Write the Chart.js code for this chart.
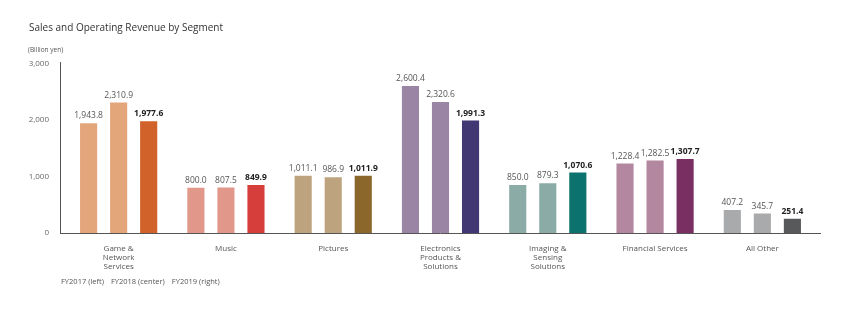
<!DOCTYPE html>
<html>
<head>
<meta charset="utf-8">
<script src="https://cdn.jsdelivr.net/npm/chart.js@4"></script>
<style>
  html, body { margin:0; padding:0; background:#fff; }
  #wrap { position:relative; width:850px; height:336px; font-family:"Open Sans", sans-serif; }
  #c { position:absolute; left:0; top:0; }
  .txt { position:absolute; white-space:nowrap; color:#444; }
  #title { left:29px; top:20px; font-size:10px; color:#333; }
  #unit { left:28px; top:45px; font-size:6.5px; color:#555; }
  #legend { left:61px; top:276px; font-size:7.5px; color:#555; }
  #legend span { margin-right:7px; }
</style>
</head>
<body>
<div id="wrap">
  <canvas id="c" width="850" height="336"></canvas>
  <div class="txt" id="title">Sales and Operating Revenue by Segment</div>
  <div class="txt" id="unit">(Billion yen)</div>
  <div class="txt" id="legend"><span>FY2017 (left)</span><span>FY2018 (center)</span><span>FY2019 (right)</span></div>
</div>
<script>
const categories = [
  ["Game &", "Network", "Services"],
  "Music",
  "Pictures",
  ["Electronics", "Products &", "Solutions"],
  ["Imaging &", "Sensing", "Solutions"],
  "Financial Services",
  "All Other"
];
const fy2017 = [1943.8, 800.0, 1011.1, 2600.4, 850.0, 1228.4, 407.2];
const fy2018 = [2310.9, 807.5, 986.9, 2320.6, 879.3, 1282.5, 345.7];
const fy2019 = [1977.6, 849.9, 1011.9, 1991.3, 1070.6, 1307.7, 251.4];
const seriesNames = ["FY2017 (left)", "FY2018 (center)", "FY2019 (right)"];
const yTicks = [0, 1000, 2000, 3000];

const lightColors = ["#E3A67B", "#E2978B", "#BEA47E", "#9A85A5", "#8BABA7", "#B3879F", "#A9AAAB"];
const darkColors  = ["#D0622A", "#D63E3C", "#8C672C", "#413773", "#0B726E", "#7A2F63", "#58595B"];

const fmt = v => v.toLocaleString("en-US", {minimumFractionDigits:1, maximumFractionDigits:1});

const overlay = {
  id: "overlay",
  afterDatasetsDraw(chart) {
    const ctx = chart.ctx;
    const area = chart.chartArea;
    ctx.save();
    ctx.strokeStyle = "#555";
    ctx.lineWidth = 1;
    ctx.beginPath();
    ctx.moveTo(60.5, area.top - 1.5);
    ctx.lineTo(60.5, area.bottom + 0.5);
    ctx.moveTo(60, area.bottom + 0.5);
    ctx.lineTo(821, area.bottom + 0.5);
    ctx.stroke();
    ctx.textAlign = "center";
    ctx.textBaseline = "bottom";
    chart.data.datasets.forEach((ds, di) => {
      const meta = chart.getDatasetMeta(di);
      meta.data.forEach((bar, i) => {
        const last = di === 2;
        ctx.font = (last ? "bold " : "") + "8.5px 'Open Sans', sans-serif";
        ctx.fillStyle = last ? "#222" : "#555";
        ctx.fillText(fmt(ds.data[i]), bar.x, bar.y - 3);
      });
    });
    ctx.restore();
  }
};

new Chart(document.getElementById("c"), {
  type: "bar",
  data: {
    labels: categories,
    datasets: [
      { label: seriesNames[0], data: fy2017, backgroundColor: lightColors },
      { label: seriesNames[1], data: fy2018, backgroundColor: lightColors },
      { label: seriesNames[2], data: fy2019, backgroundColor: darkColors }
    ]
  },
  options: {
    responsive: false,
    animation: false,
    devicePixelRatio: 1,
    categoryPercentage: 0.84,
    barPercentage: 0.57,
    layout: { padding: { top: 63.5, right: 34, left: 0, bottom: 0 } },
    plugins: { legend: { display: false }, title: { display: false }, tooltip: { enabled: false } },
    scales: {
      x: {
        grid: { display: false },
        border: { display: false },
        ticks: {
          color: "#555",
          font: { family: "'Open Sans', sans-serif", size: 8, lineHeight: 1.12 },
          padding: 3,
          maxRotation: 0,
          autoSkip: false
        },
        afterFit(scale) { scale.height = 103; }
      },
      y: {
        min: 0, max: 3000,
        grid: { display: false },
        border: { display: false },
        afterBuildTicks(scale) { scale.ticks = yTicks.map(v => ({ value: v })); },
        ticks: {
          color: "#666",
          font: { family: "'Open Sans', sans-serif", size: 8 },
          padding: 8,
          callback: v => v === 0 ? "0" : v.toLocaleString("en-US")
        },
        afterFit(scale) { scale.width = 65; }
      }
    }
  },
  plugins: [overlay]
});
</script>
</body>
</html>
